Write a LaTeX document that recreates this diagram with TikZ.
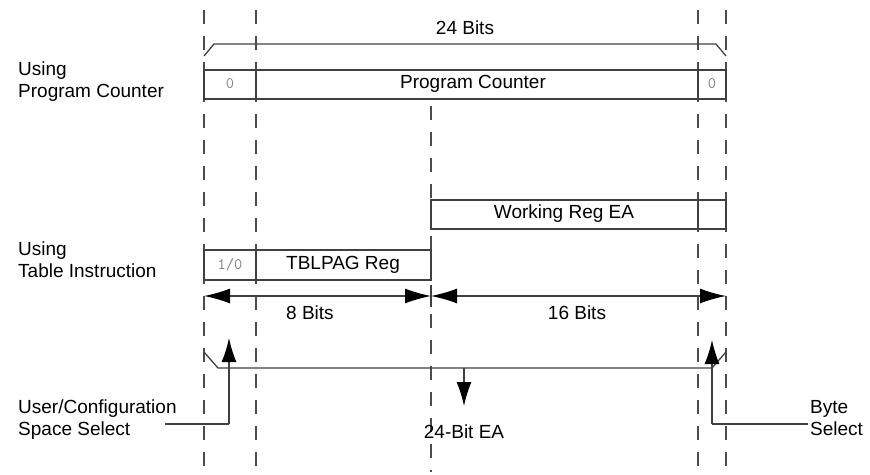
\documentclass[tikz,border=0pt]{standalone}
\usepackage{fontspec}
\setmainfont{Liberation Sans}
\usetikzlibrary{arrows.meta}
\begin{document}
\begin{tikzpicture}[x=1pt,y=-1pt,
  ln/.style={draw=black!75,line width=1.3pt},
  dsh/.style={draw=black!70,line width=1.3pt,dash pattern=on 14pt off 12pt},
  lbl/.style={font=\fontsize{19}{22}\selectfont,inner sep=0pt},
  lft/.style={lbl,anchor=north west,align=left},
  bit/.style={font=\fontsize{16}{18}\ttfamily\selectfont,text=black!50,inner sep=0pt},
  tip/.style={Latex[length=24pt,width=15pt,fill=black,color=black]},
  arr/.style={ln,-{Latex[length=24pt,width=15pt,color=black]}},
  darr/.style={ln,{Latex[length=26pt,width=15pt,color=black]}-{Latex[length=26pt,width=15pt,color=black]}}]
\useasboundingbox (0,0) rectangle (870,474);
\foreach \x in {204,256,698,726}{\draw[dsh] (\x,10) -- (\x,472);}
\draw[dsh] (431,106) -- (431,472);
% top bracket
\coordinate (t1) at (204,56); \coordinate (t2) at (716,44);
\draw[ln] (t1) -- (214,44) -- (t2) -- (726,56);
\node[lbl] (b24) at (465,28) {24 Bits};
% PC box
\draw[ln,fill=white] (204,70) rectangle (726,99);
\draw[ln] (256,70) -- (256,99) (698,70) -- (698,99);
\node[bit] (z1) at (230,84) {0};
\node[lbl] (pc) at (473,84) {Program Counter};
\node[bit] (z2) at (712,84) {0};
% Working reg
\draw[ln,fill=white] (431,200) rectangle (726,229);
\draw[ln] (698,200) -- (698,229);
\node[lbl] (wr) at (564,214) {Working Reg EA};
% TBLPAG
\draw[ln,fill=white] (204,250) rectangle (431,280);
\draw[ln] (256,250) -- (256,280);
\node[bit] (io) at (230,265) {1/0};
\node[lbl] (tp) at (343,265) {TBLPAG Reg};
% bit arrows
\coordinate (a0) at (204,296); \coordinate (a1) at (431,296); \coordinate (a2) at (726,296);
\draw[darr] (a0) -- (a1);
\draw[darr] (a1) -- (a2);
\draw[ln] (431,285) -- (431,307);
\node[lbl] (b8) at (310,313) {8 Bits};
\node[lbl] (b16) at (577,313) {16 Bits};
% bottom
\coordinate (m) at (464,368);
\draw[ln] (204,352) -- (218,368) -- (712,368) -- (726,352);
\coordinate (ea) at (464,406);
\draw[arr] (m) -- (ea);
\node[lbl] (eat) at (464,432) {24-Bit EA};
% user select
\coordinate (u0) at (165,424); \coordinate (u1) at (229,424); \coordinate (u2) at (229,338);
\draw[ln] (u0) -- (u1); \draw[arr] (u1) -- (u2);
\node[lft] (us) at (18,400) {User/Configuration\\Space Select};
% byte select
\coordinate (y0) at (808,424); \coordinate (y1) at (712,424); \coordinate (y2) at (712,340);
\draw[ln] (y0) -- (y1); \draw[arr] (y1) -- (y2);
\node[lft] (bs) at (810,400) {Byte\\Select};
\node[lft] (upc) at (18,62) {Using\\Program Counter};
\node[lft] (uti) at (18,242) {Using\\Table Instruction};
\end{tikzpicture}
\end{document}
